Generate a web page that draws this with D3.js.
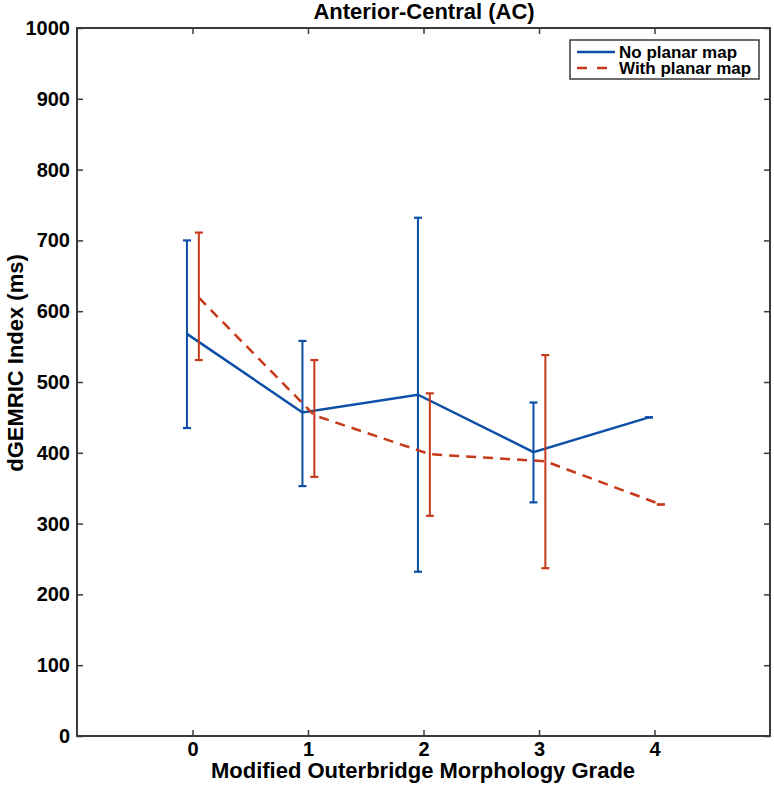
<!DOCTYPE html>
<html>
<head>
<meta charset="utf-8">
<script src="https://cdn.jsdelivr.net/npm/d3@7/dist/d3.min.js"></script>
<style>
  html, body { margin: 0; padding: 0; background: #fff; }
  svg text { font-family: "Liberation Sans", Arial, Helvetica, sans-serif; font-weight: bold; fill: #000; }
</style>
</head>
<body>
<svg id="chart" width="774" height="785"></svg>
<script>
// ---- data ----
const grades = [0, 1, 2, 3, 4];
const xTicks = [0, 1, 2, 3, 4];
const yTicks = [0, 100, 200, 300, 400, 500, 600, 700, 800, 900, 1000];
const noPlanarMean  = [568, 457, 482, 401, 450];
const noPlanarUpper = [700, 558, 732, 471, 450];
const noPlanarLower = [435, 353, 232, 330, 450];
const withPlanarMean  = [619, 453, 398, 388, 327];
const withPlanarUpper = [711, 531, 484, 538, 327];
const withPlanarLower = [531, 366, 311, 237, 327];
const seriesNames = ["No planar map", "With planar map"];
const titleText = "Anterior-Central (AC)";
const xLabel = "Modified Outerbridge Morphology Grade";
const yLabel = "dGEMRIC Index (ms)";

// ---- layout ----
const L = 77, R = 770, T = 28, B = 736;
const svg = d3.select("#chart");
const x = d3.scaleLinear().domain([-1, 5]).range([L, R]);
const y = d3.scaleLinear().domain([0, 1000]).range([B, T]);

const series = [
  { name: seriesNames[0], mean: noPlanarMean, up: noPlanarUpper, lo: noPlanarLower,
    color: "#0b4fa6", dash: null, off: -0.048 },
  { name: seriesNames[1], mean: withPlanarMean, up: withPlanarUpper, lo: withPlanarLower,
    color: "#c63a1a", dash: "10,7", off: 0.055 }
];

const axisColor = "#3a3a3a";
const tickLen = 6;

// axes with inward ticks
const gx = svg.append("g").attr("transform", `translate(0,${B})`)
  .call(d3.axisBottom(x).tickValues(xTicks).tickFormat(d3.format("d")).tickSizeInner(-tickLen).tickSizeOuter(0));
const gxt = svg.append("g").attr("transform", `translate(0,${T})`)
  .call(d3.axisTop(x).tickValues(xTicks).tickFormat("").tickSizeInner(-tickLen).tickSizeOuter(0));
const gy = svg.append("g").attr("transform", `translate(${L},0)`)
  .call(d3.axisLeft(y).tickValues(yTicks).tickFormat(d3.format("d")).tickSizeInner(-tickLen).tickSizeOuter(0).tickPadding(7));
const gyr = svg.append("g").attr("transform", `translate(${R},0)`)
  .call(d3.axisRight(y).tickValues(yTicks).tickFormat("").tickSizeInner(-tickLen).tickSizeOuter(0));

[gx, gxt, gy, gyr].forEach(g => {
  g.select(".domain").remove();
  g.selectAll(".tick line").attr("stroke", axisColor).attr("stroke-width", 1.5);
  g.selectAll(".tick text").style("font-size", "20px").style("font-family", "Liberation Sans, Arial, sans-serif").style("font-weight", "bold").attr("fill", "#000");
});
gx.selectAll(".tick text").attr("dy", "0em").attr("y", 20);

// frame
svg.append("rect").attr("x", L).attr("y", T).attr("width", R - L).attr("height", B - T)
  .attr("fill", "none").attr("stroke", axisColor).attr("stroke-width", 2);

// series
const capW = 4;
series.forEach(s => {
  const pts = grades.map((g, i) => ({ g, m: s.mean[i], u: s.up[i], l: s.lo[i] }));
  const line = d3.line().x(d => x(d.g + s.off)).y(d => y(d.m));
  const gS = svg.append("g");
  pts.forEach(d => {
    const cx = x(d.g + s.off);
    gS.append("line").attr("x1", cx).attr("x2", cx).attr("y1", y(d.u)).attr("y2", y(d.l))
      .attr("stroke", s.color).attr("stroke-width", 2);
    [d.u, d.l].forEach(v => {
      gS.append("line").attr("x1", cx - capW).attr("x2", cx + capW).attr("y1", y(v)).attr("y2", y(v))
        .attr("stroke", s.color).attr("stroke-width", 2.2);
    });
  });
  gS.append("path").datum(pts).attr("d", line).attr("fill", "none")
    .attr("stroke", s.color).attr("stroke-width", 2.5)
    .attr("stroke-dasharray", s.dash);
});

// title
svg.append("text").attr("x", 424).attr("y", 19).attr("text-anchor", "middle")
  .style("font-size", "22px").text(titleText);

// x label
svg.append("text").attr("x", 423).attr("y", 778).attr("text-anchor", "middle")
  .style("font-size", "22px").text(xLabel);

// y label
svg.append("text").attr("transform", `translate(23,363) rotate(-90)`)
  .attr("text-anchor", "middle").style("font-size", "22px").text(yLabel);

// legend
const lg = svg.append("g");
lg.append("rect").attr("x", 570).attr("y", 40).attr("width", 189).attr("height", 39)
  .attr("fill", "#fff").attr("stroke", axisColor).attr("stroke-width", 1.5);
series.forEach((s, i) => {
  const ly = 52 + i * 16;
  lg.append("line").attr("x1", 577).attr("x2", 615).attr("y1", ly).attr("y2", ly)
    .attr("stroke", s.color).attr("stroke-width", 2.5).attr("stroke-dasharray", s.dash ? "10,10" : null);
  lg.append("text").attr("x", 619).attr("y", ly + 6).style("font-size", "17px").text(s.name);
});
</script>
</body>
</html>
